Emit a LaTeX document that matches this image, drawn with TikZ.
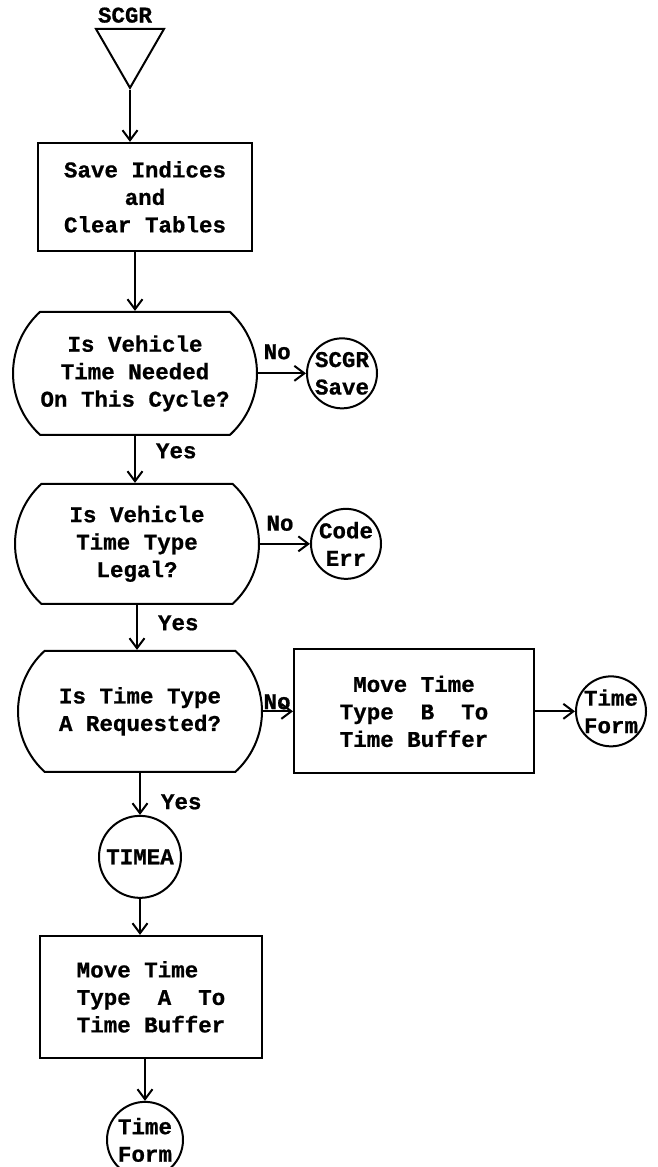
\documentclass[tikz,border=0pt]{standalone}
\usepackage{fontspec}
\usepackage{tikz}
\usetikzlibrary{shapes.geometric, shapes.misc, arrows.meta, positioning}
\newfontfamily\tyfont[FakeBold=0.8]{Liberation Mono}

\begin{document}
\begin{tikzpicture}[
        x=1pt, y=-1pt,
        every node/.style={font={\tyfont\bfseries\fontsize{22.5}{27.5}\selectfont}},
        entrytri/.style={regular polygon, regular polygon sides=3, shape border rotate=180, draw, line width=2pt, minimum size=78.5pt, inner sep=0pt},
        box/.style={rectangle, draw, line width=2pt, align=center, inner sep=0pt},
        decision/.style={rounded rectangle, rounded rectangle arc length=95, draw, line width=2pt, align=center, inner xsep=0pt, minimum width=244pt},
        onpage/.style={circle, draw, line width=2pt, align=center, inner sep=0pt, minimum size=70pt},
        arrow/.style={-{Straight Barb[length=10pt, width=15pt]}, line width=2pt},
        tag/.style={inner sep=0pt}
    ]
        \useasboundingbox (0,0) rectangle (657,1167);

        % ENTRY
        \node[entrytri, label={[tag, label distance=5pt, xshift=-5pt]above:SCGR}] (entry) at (130,48.6) {};
        \node[box, minimum width=214pt, minimum height=108pt] (save) [below=52pt of entry, xshift=15pt] {Save Indices\\and\\Clear Tables};

        % TESTS
        \node[decision, minimum height=123pt] (q1) [below=59pt of save, xshift=-10pt] {Is Vehicle\\Time Needed\\On This Cycle?};
        \node[decision, minimum height=120pt] (q2) [below=47pt of q1, xshift=2pt] {Is Vehicle\\Time Type\\Legal?};
        \node[decision, minimum height=121pt] (q3) [below=45pt of q2, xshift=3pt] {Is Time Type\\A Requested?};

        % EXITS
        \node[onpage] (savec) [right=48pt of q1] {SCGR\\Save};
        \node[onpage] (errc) [right=50pt of q2] {Code\\Err};
        \node[box, minimum width=240pt, minimum height=124pt] (moveb) [right=30pt of q3] {Move Time\\Type~~B~~To\\Time Buffer};
        \node[onpage] (timeb) [right=40pt of moveb] {Time\\Form};

        % TYPE A BRANCH
        \node[onpage, minimum size=82pt] (timea) [below=42pt of q3] {TIMEA};
        \node[box, align=left, minimum width=222pt, minimum height=122pt] (movea) [below=36pt of timea, xshift=11pt] {Move Time\\Type~~A~~To\\Time Buffer};
        \node[onpage, minimum size=76pt] (timef) [below=42pt of movea, xshift=-6pt] {Time\\Form};

        % ARROWS
        \draw[arrow] (entry.south) -- (entry.south |- save.north);
        \draw[arrow] (save.south -| q1) -- (q1.north);
        \draw[arrow] (q1.south) -- node[tag, pos=.32, right=20pt] {Yes} (q1.south |- q2.north);
        \draw[arrow] (q2.south) -- node[tag, pos=.4, right=20pt] {Yes} (q2.south |- q3.north);
        \draw[arrow] (q3.south) -- node[tag, pos=.69, right=20pt] {Yes} (timea);
        \draw[arrow] (timea) -- (timea |- movea.north);
        \draw[arrow] (movea.south -| timef) -- (timef);

        \draw[arrow] (q1.east) -- node[tag, pos=.4, above=13pt] {No} (q1.east -| savec.west);
        \draw[arrow] (q2.east) -- node[tag, pos=.4, above=12pt] {No} (q2.east -| errc.west);
        \draw[arrow] (q3.east) -- node[tag, pos=.47, above=1pt] {No} (moveb.west);
        \draw[arrow] (moveb.east) -- (moveb.east -| timeb.west);
    \end{tikzpicture}
\end{document}
